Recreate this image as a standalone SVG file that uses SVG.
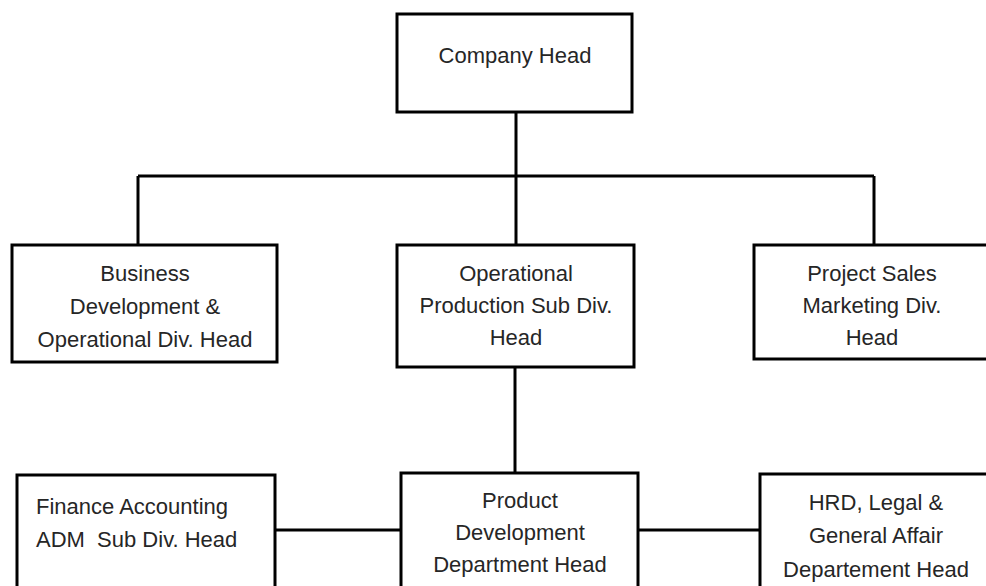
<svg xmlns="http://www.w3.org/2000/svg" width="986" height="586" viewBox="0 0 986 586">
<style>
.box{fill:#fff;stroke:#000;stroke-width:3}
.conn{fill:none;stroke:#000;stroke-width:3}
text{font-family:"Liberation Sans",Arial,sans-serif;font-size:22px;fill:#262626;text-anchor:middle}
.l{text-anchor:start}
</style>
<rect width="986" height="586" fill="#fff"/>
<g id="connectors">
<path class="conn" d="M516 112V176M138 176H874M138 176V245M516 176V245M874 176V245"/>
<path class="conn" d="M515 367V473"/>
<path class="conn" d="M275 530H401M638 530H760"/>
</g>
<g id="company-head">
<rect class="box" x="397" y="14" width="235" height="98"/>
<text x="515" y="63">Company Head</text>
</g>
<g id="business-dev">
<rect class="box" x="12" y="245" width="265" height="117"/>
<text x="145" y="281">Business</text>
<text x="145" y="314">Development &amp;</text>
<text x="145" y="347">Operational Div. Head</text>
</g>
<g id="operational-production">
<rect class="box" x="397" y="245" width="237" height="122"/>
<text x="516" y="281">Operational</text>
<text x="516" y="313">Production Sub Div.</text>
<text x="516" y="345">Head</text>
</g>
<g id="project-sales">
<rect class="box" x="754" y="245" width="240" height="114"/>
<text x="872" y="281">Project Sales</text>
<text x="872" y="313">Marketing Div.</text>
<text x="872" y="345">Head</text>
</g>
<g id="finance-accounting">
<rect class="box" x="17" y="475" width="258" height="130"/>
<text class="l" x="36" y="514">Finance Accounting</text>
<text class="l" x="36" y="547" xml:space="preserve">ADM  Sub Div. Head</text>
</g>
<g id="product-development">
<rect class="box" x="401" y="473" width="237" height="130"/>
<text x="520" y="508">Product</text>
<text x="520" y="540">Development</text>
<text x="520" y="572">Department Head</text>
</g>
<g id="hrd-legal">
<rect class="box" x="760" y="474" width="234" height="130"/>
<text x="876" y="510">HRD, Legal &amp;</text>
<text x="876" y="543">General Affair</text>
<text x="876" y="577">Departement Head</text>
</g>
</svg>
